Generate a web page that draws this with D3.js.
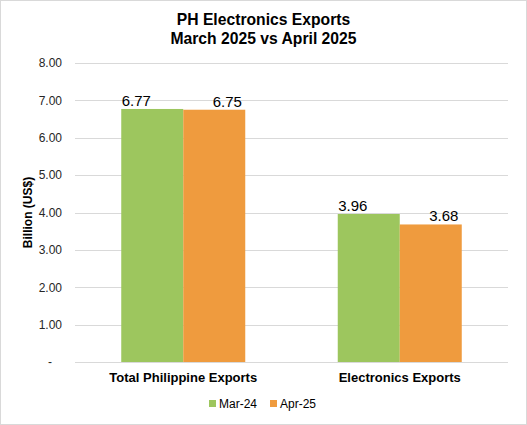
<!DOCTYPE html>
<html><head><meta charset="utf-8">
<script src="https://cdn.jsdelivr.net/npm/d3@7"></script>
<style>
html,body{margin:0;padding:0;background:#fff;}
svg{display:block;font-family:Arial,"Liberation Sans",sans-serif;}
</style></head>
<body>
<script>
const categories = ["Total Philippine Exports", "Electronics Exports"];
const seriesNames = ["Mar-24", "Apr-25"];
const mar24 = [6.77, 3.96];
const apr25 = [6.75, 3.68];
const yTicks = [0, 1, 2, 3, 4, 5, 6, 7, 8];
const titleLines = ["PH Electronics Exports", "March 2025 vs April 2025"];
const colors = ["#9DC65E", "#EF9B3E"];

const W = 527, H = 425;
const m = {left: 75, right: 19, top: 63, bottom: 63};
const svg = d3.select("body").append("svg").attr("width", W).attr("height", H);
svg.append("rect").attr("x", 0.5).attr("y", 0.5).attr("width", W - 1).attr("height", H - 1)
  .attr("fill", "#fff").attr("stroke", "#d9d9d9");

const x0 = d3.scaleBand().domain(categories).range([m.left, W - m.right]);
const x1 = d3.scaleBand().domain(seriesNames)
  .range([x0.bandwidth() / 2 - 62, x0.bandwidth() / 2 + 62]).paddingOuter(0).paddingInner(0);
const y = d3.scaleLinear().domain([0, 8]).range([H - m.bottom, m.top]);

// gridlines
svg.append("g").selectAll("line").data(yTicks).join("line")
  .attr("x1", m.left).attr("x2", W - m.right)
  .attr("y1", d => Math.round(y(d)) + 0.5).attr("y2", d => Math.round(y(d)) + 0.5)
  .attr("stroke", "#d9d9d9").attr("stroke-width", 1);

// y axis labels
const yAxis = d3.axisLeft(y).tickValues(yTicks).tickSize(0).tickPadding(0)
  .tickFormat(d => d === 0 ? "-" : d3.format(".2f")(d));
const ya = svg.append("g").attr("transform", `translate(${m.left - 13},0)`).call(yAxis);
ya.select(".domain").remove();
ya.selectAll("text").attr("font-size", 12).attr("fill", "#262626").attr("font-family", "Arial, 'Liberation Sans', sans-serif")
  .attr("dx", d => d === 0 ? -10 : 0);

// bars
const data = categories.map((c, i) => ({cat: c, vals: [{s: seriesNames[0], v: mar24[i]}, {s: seriesNames[1], v: apr25[i]}]}));
const labelDx = {"Mar-24": -16, "Apr-25": 13};
const g = svg.append("g").selectAll("g").data(data).join("g")
  .attr("transform", d => `translate(${x0(d.cat)},0)`);
g.selectAll("rect").data(d => d.vals).join("rect")
  .attr("x", d => x1(d.s)).attr("width", x1.bandwidth())
  .attr("y", d => y(d.v)).attr("height", d => y(0) - y(d.v))
  .attr("fill", (d, i) => colors[i]);
g.selectAll("text").data(d => d.vals).join("text")
  .attr("x", d => x1(d.s) + x1.bandwidth() / 2 + labelDx[d.s])
  .attr("y", d => y(d.v) - 3)
  .attr("text-anchor", "middle").attr("font-size", 15).attr("fill", "#000")
  .text(d => d3.format(".2f")(d.v));

// x axis category labels
const xa = svg.append("g").attr("transform", `translate(0,${y(0)})`)
  .call(d3.axisBottom(x0).tickSize(0).tickPadding(0));
xa.select(".domain").remove();
xa.selectAll("text").attr("dy", 0).attr("y", 20).attr("font-size", 13).attr("font-weight", "bold")
  .attr("fill", "#000").attr("font-family", "Arial, 'Liberation Sans', sans-serif");

// y title
svg.append("text").attr("transform", `translate(32,${(m.top + H - m.bottom) / 2}) rotate(-90)`)
  .attr("text-anchor", "middle").attr("font-size", 12).attr("font-weight", "bold").attr("fill", "#000")
  .text("Billion (US$)");

// title
svg.append("text").attr("text-anchor", "middle").attr("font-size", 15.7).attr("font-weight", "bold").attr("fill", "#000")
  .selectAll("tspan").data(titleLines).join("tspan")
  .attr("x", W / 2).attr("y", (d, i) => 25 + i * 19).text(d => d);

// legend
const leg = svg.append("g").attr("transform", `translate(209,408)`);
const li = leg.selectAll("g").data(seriesNames).join("g")
  .attr("transform", (d, i) => `translate(${i * 61},0)`);
li.append("rect").attr("x", 0).attr("y", -8).attr("width", 7).attr("height", 7).attr("fill", (d, i) => colors[i]);
li.append("text").attr("x", 10).attr("y", 0).attr("font-size", 12).attr("fill", "#000").text(d => d);
</script>
</body></html>
